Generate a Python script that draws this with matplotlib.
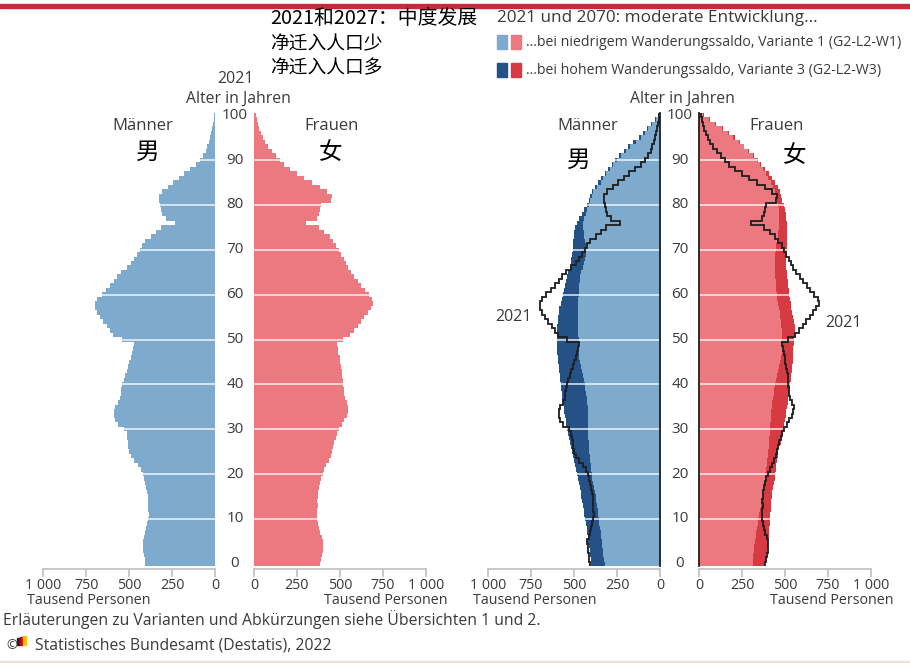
import numpy as np
import matplotlib
matplotlib.use("Agg")
import matplotlib.pyplot as plt
from matplotlib.patches import Rectangle
from matplotlib.transforms import blended_transform_factory

plt.rcParams['font.family'] = ['Open Sans', 'DejaVu Sans']

# ---- data (thousand persons, single years of age 0..100) ----
ages = np.arange(0, 101)

men_2021 = [
    405, 410, 415, 418, 420, 422, 415, 405, 400, 395,
    388, 385, 388, 392, 390, 390, 395, 402, 408, 412,
    418, 430, 450, 470, 490, 500, 505, 505, 510, 515,
    530, 565, 580, 590, 590, 580, 565, 555, 550, 545,
    540, 532, 525, 515, 505, 498, 490, 482, 476, 472,
    540, 595, 612, 630, 650, 670, 685, 698, 700, 685,
    660, 635, 610, 590, 570, 545, 515, 490, 470, 452,
    435, 425, 405, 375, 345, 315, 235, 285, 310, 312,
    320, 325, 325, 310, 275, 245, 212, 178, 148, 110,
    85, 68, 55, 44, 35, 27, 21, 16, 12, 8,
    5]

women_2021 = [
    385, 392, 398, 400, 402, 402, 398, 385, 378, 372,
    368, 366, 368, 370, 368, 370, 372, 378, 385, 392,
    400, 410, 422, 435, 448, 455, 460, 465, 475, 485,
    495, 510, 525, 540, 548, 550, 540, 530, 525, 522,
    520, 518, 515, 512, 508, 502, 498, 492, 488, 485,
    520, 560, 582, 603, 623, 643, 663, 683, 695, 690,
    668, 645, 625, 605, 585, 565, 548, 535, 522, 508,
    493, 480, 462, 440, 410, 380, 305, 365, 380, 386,
    392, 450, 455, 425, 385, 335, 290, 250, 210, 172,
    150, 128, 104, 84, 66, 52, 40, 30, 22, 16,
    10]

men_2070_w1 = [
    322, 326, 329, 332, 335, 339, 342, 345, 349, 352,
    356, 360, 363, 367, 371, 375, 379, 383, 388, 393,
    398, 401, 404, 406, 408, 410, 412, 414, 416, 418,
    419, 420, 420, 420, 421, 421, 423, 426, 430, 434,
    438, 444, 450, 456, 462, 466, 469, 471, 472, 472,
    473, 474, 475, 476, 477, 477, 477, 476, 475, 474,
    472, 471, 470, 468, 463, 457, 450, 443, 437, 432,
    429, 431, 435, 439, 444, 448, 446, 440, 432, 424,
    412, 405, 398, 388, 368, 345, 330, 312, 292, 272,
    250, 226, 200, 172, 142, 112, 88, 68, 44, 22,
    6]

men_2070_w3 = [
    400, 403, 406, 409, 412, 416, 419, 423, 427, 431,
    436, 440, 444, 448, 452, 457, 462, 467, 472, 477,
    482, 488, 494, 500, 506, 512, 518, 524, 530, 535,
    540, 545, 549, 553, 557, 561, 564, 567, 571, 574,
    578, 581, 584, 587, 590, 592, 594, 596, 597, 598,
    599, 600, 600, 598, 595, 592, 589, 585, 578, 571,
    565, 558, 552, 546, 540, 533, 526, 520, 515, 511,
    507, 505, 503, 500, 498, 496, 484, 470, 455, 440,
    425, 415, 405, 395, 378, 360, 342, 322, 300, 280,
    262, 238, 212, 185, 155, 125, 100, 76, 52, 30,
    8]

women_2070_w1 = [
    312, 314, 316, 318, 321, 325, 329, 333, 337, 341,
    345, 351, 357, 363, 369, 374, 377, 379, 381, 383,
    385, 389, 393, 397, 400, 403, 405, 407, 409, 411,
    413, 415, 417, 419, 421, 423, 426, 430, 434, 438,
    442, 448, 454, 460, 466, 471, 476, 480, 483, 484,
    484, 483, 482, 479, 476, 473, 469, 464, 459, 455,
    451, 448, 446, 445, 444, 444, 444, 444, 444, 444,
    445, 448, 452, 457, 461, 464, 465, 466, 465, 463,
    460, 455, 448, 440, 430, 418, 404, 390, 374, 356,
    335, 312, 287, 260, 230, 200, 168, 132, 95, 58,
    25]

women_2070_w3 = [
    384, 388, 392, 395, 399, 403, 405, 407, 409, 411,
    413, 415, 417, 419, 421, 423, 427, 431, 435, 439,
    442, 446, 450, 454, 458, 462, 468, 474, 480, 486,
    491, 495, 499, 503, 507, 511, 515, 519, 523, 527,
    530, 533, 536, 539, 542, 544, 546, 548, 549, 550,
    553, 556, 560, 558, 552, 546, 541, 537, 533, 529,
    526, 522, 518, 515, 512, 510, 508, 507, 508, 510,
    512, 513, 514, 514, 513, 511, 509, 506, 503, 498,
    492, 485, 478, 470, 458, 442, 425, 405, 383, 362,
    345, 320, 293, 264, 236, 209, 175, 138, 100, 62,
    27]

age_ticks = [0, 10, 20, 30, 40, 50, 60, 70, 80, 90, 100]
grid_ages = [10, 20, 30, 40, 50, 60, 70, 80, 90]
x_ticks = [0, 250, 500, 750, 1000]
x_tick_labels = ['0', '250', '500', '750', '1 000']

# ---- styling ----
W, H = 910, 663
BLUE = '#7eaace'
BLUE_D = '#245287'
PINK = '#ec7880'
RED_D = '#d63a42'
AXIS_GREY = '#bfbfbf'
TXT = '#3a3a3a'
CJK = ['Noto Sans CJK SC', 'DejaVu Sans']


def fx(px):
    return px / W


def fy(py):
    return 1 - py / H


fig = plt.figure(figsize=(W / 100, H / 100), dpi=100)

Y_BOT, Y_TOP = 566, 113
edges = np.append(ages - 0.5, ages[-1] + 0.5)


def make_ax(x_left, x_right, men):
    ax = fig.add_axes([fx(x_left), fy(Y_BOT), (x_right - x_left) / W, (Y_BOT - Y_TOP) / H])
    ax.set_xlim((1000, 0) if men else (0, 1000))
    ax.set_ylim(-0.5, 100.5)
    for s in ['left', 'right', 'top']:
        ax.spines[s].set_visible(False)
    ax.spines['bottom'].set_position(('outward', 2.2))
    ax.spines['bottom'].set_color(AXIS_GREY)
    ax.spines['bottom'].set_linewidth(1.2)
    ax.set_xticks(x_ticks)
    ax.set_xticklabels(x_tick_labels)
    ax.tick_params(axis='x', direction='out', length=6, width=1.2, color=AXIS_GREY,
                   labelsize=10.3, labelcolor=TXT, pad=0.5)
    ax.set_yticks([])
    ax.patch.set_alpha(0)
    return ax


def white_grid(ax):
    ax.hlines(grid_ages, 0, 1000, colors='white', linewidth=1.3, alpha=0.75, zorder=3)


def age_labels(ax, px):
    tr = blended_transform_factory(fig.transFigure, ax.transData)
    for a in age_ticks:
        ax.text(fx(px), a, str(a), transform=tr, ha='center', va='center',
                fontsize=11, color=TXT)


# ---- left pyramid: 2021 ----
axm = make_ax(43.3, 215, True)
axf = make_ax(254, 425.7, False)
axm.stairs(men_2021, edges, orientation='horizontal', fill=True, color=BLUE, baseline=0, zorder=2)
axf.stairs(women_2021, edges, orientation='horizontal', fill=True, color=PINK, baseline=0, zorder=2)
white_grid(axm)
white_grid(axf)
age_labels(axf, 235)

# ---- right pyramid: 2070 ----
axm2 = make_ax(488, 660, True)
axf2 = make_ax(699, 871, False)
axm2.stairs(men_2070_w3, edges, orientation='horizontal', fill=True, color=BLUE_D, baseline=0, zorder=1)
axm2.stairs(men_2070_w1, edges, orientation='horizontal', fill=True, color=BLUE, baseline=0, zorder=2)
axf2.stairs(women_2070_w3, edges, orientation='horizontal', fill=True, color=RED_D, baseline=0, zorder=1)
axf2.stairs(women_2070_w1, edges, orientation='horizontal', fill=True, color=PINK, baseline=0, zorder=2)
white_grid(axm2)
white_grid(axf2)
axm2.stairs(men_2021, edges, orientation='horizontal', baseline=None, color='#1e1e1e', linewidth=1.3, zorder=5)
axf2.stairs(women_2021, edges, orientation='horizontal', baseline=None, color='#1e1e1e', linewidth=1.3, zorder=5)
axm2.axvline(0, color='#1e1e1e', linewidth=1.3, clip_on=False, zorder=6)
axf2.axvline(0, color='#1e1e1e', linewidth=1.3, clip_on=False, zorder=6)
age_labels(axf2, 680)

# ---- texts ----
def t(px, py, s, **kw):
    kw.setdefault('color', TXT)
    kw.setdefault('va', 'center')
    fig.text(fx(px), fy(py), s, **kw)


t(235, 79, '2021', fontsize=11.5, ha='center')
t(238, 99, 'Alter in Jahren', fontsize=11.3, ha='center')
t(682, 99, 'Alter in Jahren', fontsize=11.3, ha='center')
t(143, 126, 'Männer', fontsize=12, ha='center')
t(332, 126, 'Frauen', fontsize=12, ha='center')
t(588, 126, 'Männer', fontsize=12, ha='center')
t(777, 126, 'Frauen', fontsize=12, ha='center')
t(148, 152, '男', fontsize=17, ha='center', family=CJK, color='black')
t(331, 152, '女', fontsize=17, ha='center', family=CJK, color='black')
t(579, 160, '男', fontsize=17, ha='center', family=CJK, color='black')
t(795, 155, '女', fontsize=17, ha='center', family=CJK, color='black')
t(514, 317, '2021', fontsize=11.5, ha='center')
t(843, 323, '2021', fontsize=11.5, ha='center')

t(27, 601, 'Tausend Personen', fontsize=10.3, ha='left')
t(447, 601, 'Tausend Personen', fontsize=10.3, ha='right')
t(473, 601, 'Tausend Personen', fontsize=10.3, ha='left')
t(893, 601, 'Tausend Personen', fontsize=10.3, ha='right')

# Chinese annotations
t(270, 18, '2021和2027：中度发展', fontsize=14.3, ha='left', family=CJK, color='black')
t(270, 44, '净迁入人口少', fontsize=13.5, ha='left', family=CJK, color='black')
t(270, 68, '净迁入人口多', fontsize=13.5, ha='left', family=CJK, color='black')

# legend
t(497, 18, '2021 und 2070: moderate Entwicklung...', fontsize=12.3, ha='left')
legend_rows = [
    (42, BLUE, PINK, '...bei niedrigem Wanderungssaldo, Variante 1 (G2-L2-W1)'),
    (70, BLUE_D, RED_D, '...bei hohem Wanderungssaldo, Variante 3 (G2-L2-W3)'),
]
for py, c1, c2, label in legend_rows:
    for x0, c in [(497, c1), (511, c2)]:
        fig.patches.append(Rectangle((fx(x0), fy(py + 7)), 10 / W, 14 / H,
                                     transform=fig.transFigure, color=c))
    t(526, py, label, fontsize=10.2, ha='left')

# footer
t(3, 620, 'Erläuterungen zu Varianten und Abkürzungen siehe Übersichten 1 und 2.', fontsize=11.3, ha='left')
t(6, 646, '©', fontsize=9.5, ha='left')
for x0, c, h in [(17, '#222222', 7), (20, '#d0021b', 8), (23, '#f5c400', 9)]:
    fig.patches.append(Rectangle((fx(x0), fy(645)), 2.6 / W, h / H,
                                 transform=fig.transFigure, color=c))
t(35, 646, 'Statistisches Bundesamt (Destatis), 2022', fontsize=11.3, ha='left')

# top red rule and faint bottom rule
fig.patches.append(Rectangle((0, fy(8)), 1, 4 / H, transform=fig.transFigure, color='#c8283c'))
fig.patches.append(Rectangle((0, fy(662)), 1, 1 / H, transform=fig.transFigure, color='#f2dde0'))

fig.savefig('out.png', dpi=100)
